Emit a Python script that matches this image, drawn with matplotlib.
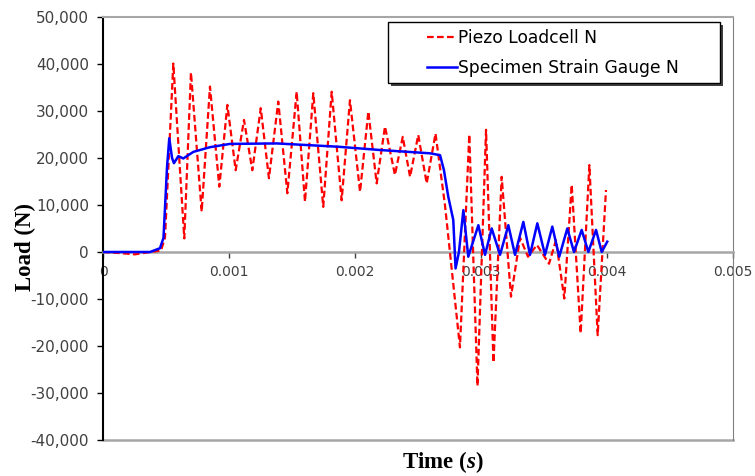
import matplotlib.pyplot as plt
from matplotlib.patches import Rectangle
from matplotlib.ticker import FuncFormatter

plt.rcParams['mathtext.fontset'] = 'custom'
plt.rcParams['mathtext.it'] = 'Liberation Serif:italic:bold'

# Piezo loadcell signal (time in s, load in N)
piezo_t = [0, 0.000119, 0.000254, 0.000373, 0.00046, 0.000492, 0.000558,
           0.000645, 0.000698, 0.000783, 0.000849, 0.000923, 0.000987,
           0.001053, 0.001119, 0.001185, 0.001252, 0.001317, 0.001391,
           0.001463, 0.001537, 0.001603, 0.001669, 0.001748, 0.001815,
           0.001894, 0.00196, 0.00204, 0.002106, 0.002172, 0.002238,
           0.002317, 0.002379, 0.002437, 0.002502, 0.002569, 0.002639,
           0.002714, 0.002833, 0.002907, 0.002972, 0.00304, 0.003099,
           0.003164, 0.003238, 0.00331, 0.003373, 0.003444, 0.00354,
           0.003595, 0.003661, 0.00372, 0.003791, 0.00386, 0.003926, 0.003992]
piezo_n = [0, -200, -500, 0, 300, 3000, 40100,
           2900, 38200, 8600, 35200, 13900, 31300,
           17400, 28100, 17400, 30600, 15700, 32000,
           12500, 34100, 10700, 33800, 9600, 34100,
           11000, 32300, 12800, 29900, 14600, 26700,
           16400, 24500, 16000, 24900, 14600, 25200,
           10000, -20300, 25000, -28500, 26000, -23500,
           16000, -9500, 3000, -1000, 1500, -2500,
           2500, -9900, 14300, -17300, 18500, -17700, 13200]

# Specimen strain gauge signal
gauge_t = [0, 0.000373, 0.000452, 0.00048, 0.000508, 0.000526, 0.000548,
           0.000563, 0.000598, 0.000637, 0.000717, 0.000849, 0.001008,
           0.001379, 0.001865, 0.002198, 0.002595, 0.002675, 0.002706,
           0.00274, 0.00278, 0.002798, 0.002825, 0.00286, 0.002899,
           0.002979, 0.003032, 0.003085, 0.003151, 0.003217, 0.00327,
           0.003336, 0.003389, 0.003447, 0.003508, 0.003566, 0.003621,
           0.003685, 0.003738, 0.003799, 0.003852, 0.003913, 0.003958, 0.004002]
gauge_n = [0, 0, 800, 3000, 18000, 24200, 20000,
           18900, 20400, 19900, 21300, 22300, 23000,
           23100, 22400, 21700, 21000, 20600, 17400,
           11800, 6800, -3500, 0, 8900, -1000,
           5700, -600, 5000, -600, 5700, -600,
           6400, -600, 6100, -600, 5400, -1000,
           5000, 0, 4700, 0, 4700, 0, 2200]

x_ticks = [0, 0.001, 0.002, 0.003, 0.004, 0.005]
x_labels = ['0', '0.001', '0.002', '0.003', '0.004', '0.005']
y_ticks = [-40000, -30000, -20000, -10000, 0, 10000, 20000, 30000, 40000, 50000]

fig = plt.figure(figsize=(7.55, 4.76), dpi=100)
ax = fig.add_axes([103 / 755, 1 - 440 / 476, 630 / 755, 423 / 476])

ax.plot(piezo_t, piezo_n, color='#FF0000', lw=1.6, ls=(0, (3, 1.5)),
        label='Piezo Loadcell N', zorder=3)
ax.plot(gauge_t, gauge_n, color='#0000FF', lw=1.8,
        label='Specimen Strain Gauge N', zorder=4)

ax.set_xlim(0, 0.005)
ax.set_ylim(-40000, 50000)
ax.set_xticks(x_ticks)
ax.set_xticklabels(x_labels)
ax.set_yticks(y_ticks)
ax.yaxis.set_major_formatter(FuncFormatter(lambda v, p: '{:,}'.format(int(v))))

# excel-like frame: x axis on the zero line, grey border
ax.spines['left'].set_color('black')
ax.spines['left'].set_linewidth(1.5)
ax.spines['bottom'].set_position(('data', 0))
ax.spines['bottom'].set_color('#A6A6A6')
ax.spines['bottom'].set_linewidth(1.8)
ax.spines['top'].set_color('#A6A6A6')
ax.spines['top'].set_linewidth(1.5)
ax.spines['right'].set_color('#808080')
ax.spines['right'].set_linewidth(0.8)
ax.axhline(-40000, color='#A6A6A6', lw=1.8, clip_on=False, zorder=2)

ax.tick_params(axis='y', direction='out', length=4, width=1, color='black',
               labelsize=11, labelcolor='#404040', pad=6)
ax.tick_params(axis='x', direction='out', length=4, width=1, color='#404040',
               labelsize=10, labelcolor='#404040', pad=5)

# legend with a shadowed box
x0, y0 = (388 - 103) / 630, (440 - 83) / 423
w, h = (720 - 388) / 630, (83 - 22) / 423
ax.add_patch(Rectangle((x0 + 0.004, y0 - 0.007), w, h, transform=ax.transAxes,
                       facecolor='#404040', edgecolor='none', zorder=5, clip_on=False))
ax.add_patch(Rectangle((x0, y0), w, h, transform=ax.transAxes, facecolor='white',
                       edgecolor='black', lw=1, zorder=5, clip_on=False))
leg = ax.legend(loc='upper left', bbox_to_anchor=(0.514, 0.972), frameon=False,
                borderpad=0, borderaxespad=0, handlelength=1.75, handletextpad=0.1,
                labelspacing=0.7, prop={'family': 'DejaVu Sans', 'size': 12.3})
leg.set_zorder(6)

fig.text(25 / 755, 1 - 247 / 476, 'Load (N)', rotation=90, ha='center', va='center',
         family='Liberation Serif', weight='bold', size=16.5)
fig.text(443 / 755, 1 - 462 / 476, r'Time ($\mathit{s}$)', ha='center', va='center',
         family='Liberation Serif', weight='bold', size=16.5)

fig.savefig('out.png', dpi=100)
